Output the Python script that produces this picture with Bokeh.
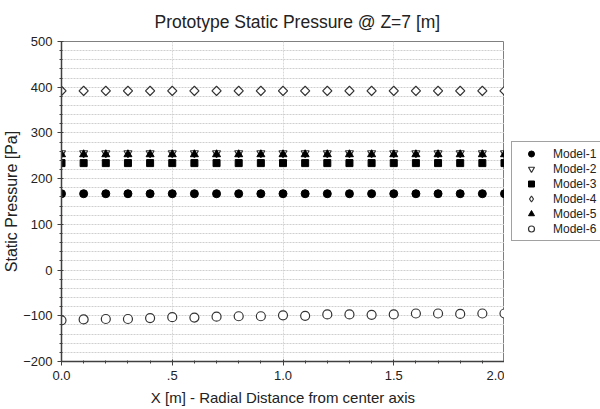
import math
from bokeh.plotting import figure
from bokeh.models import Legend, LegendItem, FixedTicker, Range1d, Title
from bokeh.layouts import row
from bokeh.embed import file_html
from bokeh.resources import INLINE

x = [0.0, 0.1, 0.2, 0.3, 0.4, 0.5, 0.6, 0.7, 0.8, 0.9, 1.0,
     1.1, 1.2, 1.3, 1.4, 1.5, 1.6, 1.7, 1.8, 1.9, 2.0]
model1 = [167] * 21
model2 = [256] * 21
model3 = [234] * 21
model4 = [392] * 21
model5 = [253] * 21
model6 = [-110, -108, -107, -107, -105, -103, -104, -102, -101, -101, -99,
          -100, -97, -97, -98, -97, -95, -95, -96, -95, -95]
series_names = ["Model-1", "Model-2", "Model-3", "Model-4", "Model-5", "Model-6"]
x_ticks = [0.0, 0.5, 1.0, 1.5, 2.0]
x_tick_labels = ["0.0", ".5", "1.0", "1.5", "2.0"]
y_ticks = [-200, -100, 0, 100, 200, 300, 400, 500]

FONT = "Liberation Sans"

p = figure(width=504, height=409, output_backend="svg", toolbar_location=None,
           x_range=Range1d(0, 2.0), y_range=Range1d(-200, 500),
           min_border_left=60, min_border_right=0, min_border_top=41, min_border_bottom=48)
p.title = Title(text="Prototype Static Pressure @ Z=7 [m]", align="left",
                text_font=FONT, text_font_size="17.5px", text_font_style="normal",
                text_color="#222222", standoff=19, offset=93)
p.outline_line_color = "#808080"
p.background_fill_color = "white"
p.border_fill_color = "white"

# grids
p.xgrid.ticker = FixedTicker(ticks=[0.5, 1.0, 1.5])
p.xgrid.grid_line_color = "#d8d8d8"
p.xgrid.grid_line_dash = "2 1"
p.ygrid.ticker = FixedTicker(ticks=list(range(-180, 500, 20)))
p.ygrid.grid_line_color = "#cfcfcf"
p.ygrid.grid_line_dash = "2 1"

for ax in (p.xaxis[0], p.yaxis[0]):
    ax.axis_line_color = "#404040"
    ax.axis_line_width = 1.5
    ax.major_tick_line_color = "#404040"
    ax.minor_tick_line_color = "#404040"
    ax.major_label_text_font = FONT
    ax.major_label_text_font_size = "13px"
    ax.major_label_text_color = "#222222"
    ax.axis_label_text_font = FONT
    ax.axis_label_text_font_style = "normal"
    ax.axis_label_text_color = "#222222"
    ax.major_tick_in = 2
    ax.major_tick_out = 4
    ax.minor_tick_in = 1
    ax.minor_tick_out = 2

p.xaxis.ticker = FixedTicker(ticks=x_ticks,
                             minor_ticks=[round(v, 1) for v in x])
p.xaxis.major_label_overrides = {t: l for t, l in zip(x_ticks, x_tick_labels)}
p.xaxis.axis_label = "X [m] - Radial Distance from center axis"
p.xaxis.axis_label_text_font_size = "15px"
p.xaxis.axis_label_standoff = 6
p.yaxis.ticker = FixedTicker(ticks=y_ticks, minor_ticks=list(range(-200, 501, 20)))
p.yaxis.axis_label = "Static Pressure [Pa]"
p.yaxis.axis_label_text_font_size = "16px"
p.yaxis.major_label_standoff = 5
p.yaxis.axis_label_standoff = 0

sz = 8
styles = [
    dict(marker="circle", size=sz, fill_color="black", line_color="black"),
    dict(marker="inverted_triangle", size=sz, fill_color="white", line_color="#333333", line_width=1.2),
    dict(marker="square", size=sz - 1, fill_color="black", line_color="black"),
    dict(marker="square", size=6.5, angle=math.pi / 4, fill_color="white", line_color="#333333", line_width=1.2),
    dict(marker="triangle", size=sz, fill_color="black", line_color="black"),
    dict(marker="circle", size=sz + 1, fill_color="white", line_color="#333333", line_width=1.2),
]
series = [model1, model2, model3, model4, model5, model6]
draw_order = [0, 2, 3, 1, 4, 5]
for i in draw_order:
    p.scatter(x, series[i], **styles[i])

# legend panel (separate figure so the legend can sit right of the plot frame);
# its series are outside its visible range, only the legend shows
lp = figure(width=96, height=409, output_backend="svg", toolbar_location=None,
            x_range=Range1d(-10, -9), y_range=Range1d(-1000, -999),
            x_axis_type=None, y_axis_type=None,
            min_border_left=0, min_border_right=0, min_border_top=0, min_border_bottom=0)
lp.outline_line_color = None
lp.grid.visible = False
lp.background_fill_color = "white"
lp.border_fill_color = "white"
legend_styles = [dict(s) for s in styles]
legend_styles[3] = dict(marker="diamond", size=9, fill_color="white", line_color="#333333", line_width=1.2)
legend_renderers = [lp.scatter(x, series[i], **legend_styles[i]) for i in range(6)]

legend = Legend(items=[LegendItem(label=n, renderers=[r]) for n, r in zip(series_names, legend_renderers)],
                location=(7, 120), orientation="vertical")
legend.label_text_font = FONT
legend.label_text_font_size = "12px"
legend.label_text_color = "#222222"
legend.label_height = 15
legend.glyph_height = 15
legend.glyph_width = 30
legend.spacing = 0
legend.padding = 4
legend.margin = 0
legend.label_standoff = 7
legend.border_line_color = "#444444"
legend.border_line_width = 1
legend.background_fill_alpha = 1.0
lp.add_layout(legend, "center")

layout = row(p, lp, spacing=0)
open("out.html", "w").write(file_html(layout, INLINE))
